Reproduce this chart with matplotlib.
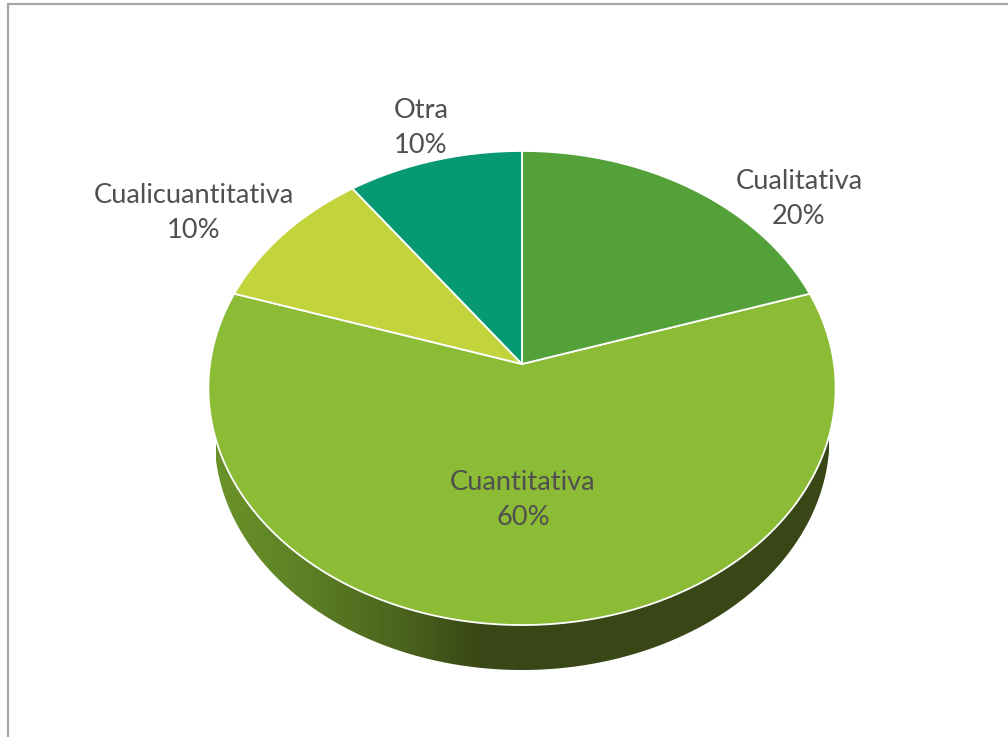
import numpy as np
import matplotlib
matplotlib.use("Agg")
import matplotlib.pyplot as plt
from matplotlib.colors import LinearSegmentedColormap
from matplotlib.patches import Polygon

categories = ["Cualitativa", "Cuantitativa", "Cualicuantitativa", "Otra"]
percent = [20, 60, 10, 10]
colors = ["#54a139", "#8cbb35", "#c3d33c", "#069972"]
# centre of each two line label, in pixels
label_pos = [(799, 199), (523, 500), (194, 213), (421, 128)]

plt.rcParams["font.family"] = ["Lato", "DejaVu Sans"]

# tilted disc: circle point -> screen, perspective makes the apex sit above the ellipse centre
PERSP = 0.1013


def project(theta, cx, cy, rx, ry):
    x, y = np.sin(theta), np.cos(theta)
    w = 1 + PERSP * y
    return np.column_stack([cx + rx * x / w, cy - ry * y / w])


def top_face(theta):
    return project(theta, 522, 364, 312, 234.6)


def bottom_face(theta):
    return project(theta, 522, 413.2, 306, 230.8)


fig = plt.figure(figsize=(10.08, 7.37), dpi=100)
ax = fig.add_axes([0, 0, 1, 1])

# side wall, only the front half shows
t = np.linspace(np.pi * 0.5, np.pi * 1.5, 400)
wall = np.vstack([top_face(t), bottom_face(t)[::-1]])
wall_cmap = LinearSegmentedColormap.from_list(
    "wall", [(0, "#6a9229"), (0.15, "#5c7f25"), (0.30, "#4a641d"),
             (0.43, "#394716"), (1, "#394716")])
im = ax.imshow(np.linspace(0, 1, 256).reshape(1, -1), cmap=wall_cmap,
               extent=(216, 829, 680, 400), aspect="auto", zorder=1)
clip = Polygon(wall, closed=True, transform=ax.transData)
im.set_clip_path(clip)

# slices, clockwise from the top
edges = np.cumsum([0] + percent) / sum(percent) * 2 * np.pi
apex = np.array([[522, 364]])
for i in range(len(percent)):
    arc = np.linspace(edges[i], edges[i + 1], 200)
    pts = np.vstack([apex, top_face(arc)])
    ax.add_patch(Polygon(pts, closed=True, facecolor=colors[i],
                         edgecolor="white", linewidth=1.3, zorder=2 + (i != 1)))

for name, pct, (x, y) in zip(categories, percent, label_pos):
    ax.text(x, y, f"{name}\n{pct}%", ha="center", va="center", fontsize=19.6,
            color="#505050", linespacing=1.53, zorder=5)

# frame of the chart area
ax.plot([8, 8, 1008], [737, 4, 4], color="#a6a6a6", lw=1.6, solid_joinstyle="miter", zorder=6)

ax.set_xlim(0, 1008)
ax.set_ylim(737, 0)
ax.axis("off")
fig.savefig("out.png", dpi=100)
